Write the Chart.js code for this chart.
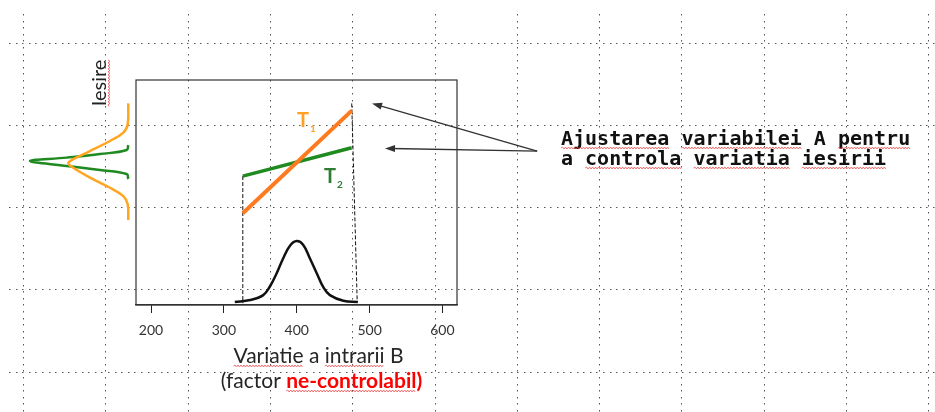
<!DOCTYPE html>
<html>
<head>
<meta charset="utf-8">
<script src="https://cdn.jsdelivr.net/npm/chart.js@4.4.1/dist/chart.umd.min.js"></script>
<style>
  html, body { margin: 0; padding: 0; background: #fff; }
  #wrap { width: 935px; height: 412px; }
</style>
</head>
<body>
<div id="wrap"><canvas id="chart" width="935" height="412"></canvas></div>
<script>
// axa x (Variatie a intrarii B)
var xTicks = [200, 300, 400, 500, 600];

// T1 (portocaliu) si T2 (verde)
var t1X = [326, 475.5];
var t1Y = [40.8, 86.4];
var t2X = [326, 475.5];
var t2Y = [57.3, 69.9];

// distributia intrarii B
var inX = [315, 336, 354, 363, 372.5, 381.5, 391, 400, 409, 418, 427.5, 436.5, 445.5, 464, 484];
var inY = [1.3, 2.2, 4.4, 8.1, 14.1, 20.8, 26.4, 28.4, 26.7, 20.8, 14.1, 7.9, 4.4, 1.9, 1.3];

// distributiile iesirii (desenate culcat, in stanga graficului)
var outT1X = [168.8, 168.0, 162.0, 143.7, 116.3, 93.3, 86.5, 93.3, 116.3, 143.7, 162.0, 168.0, 168.8];
var outT1Y = [89.6, 80.3, 76.6, 72.9, 68.4, 64.8, 63.0, 61.0, 56.6, 52.1, 48.4, 44.8, 37.8];
var outT2X = [168.8, 166.6, 130.0, 84.3, 33.9, 84.3, 130.0, 166.6, 168.8];
var outT2Y = [71.1, 68.9, 67.1, 65.5, 64.0, 61.8, 60.0, 58.2, 56.0];

// proiectii punctate
var dropLX = [326, 326];
var dropLY = [57.3, 0.8];
var dropRX = [475.5, 483];
var dropRY = [89.6, 1.5];

// sageti
var arrowFrom = [730, 68.4];
var arrowTipX = [503.4, 521.2];
var arrowTipY = [89.6, 69.6];

// etichete T1, T2
var labelT = ['T', 'T'];
var labelSub = ['1', '2'];
var labelX = [401.8, 438.8];
var labelY = [79.2, 54.1];

var noteLines = ['Ajustarea variabilei A pentru', 'a controla variatia iesirii'];
var noteMarked = [['Ajustarea', 'variabilei', 'pentru'], ['controla', 'variatia', 'iesirii']];

function pts(xs, ys) {
  var a = [];
  for (var i = 0; i < xs.length; i++) a.push({x: xs[i], y: ys[i]});
  return a;
}

function squiggle(ctx, x1, x2, y) {
  ctx.save();
  ctx.strokeStyle = 'rgba(235,70,70,0.75)';
  ctx.lineWidth = 1;
  ctx.beginPath();
  var up = true;
  ctx.moveTo(x1, y);
  for (var x = x1 + 1.5; x <= x2; x += 1.5) {
    ctx.lineTo(x, up ? y - 1 : y + 1);
    up = !up;
  }
  ctx.stroke();
  ctx.restore();
}

var decor = {
  id: 'decor',
  beforeDraw: function(chart) {
    var ctx = chart.ctx;
    ctx.save();
    ctx.fillStyle = '#fff';
    ctx.fillRect(0, 0, chart.width, chart.height);
    // grila punctata a slide-ului
    ctx.fillStyle = '#555';
    var step = 82.3;
    for (var gx = 23; gx < chart.width; gx += step) {
      for (var yy = 14; yy < chart.height; yy += 6.6) ctx.fillRect(Math.round(gx), Math.round(yy), 1, 1.5);
    }
    for (var gy = 42.5; gy < chart.height; gy += step) {
      for (var xx = 9; xx < chart.width; xx += 6.6) ctx.fillRect(Math.round(xx), Math.round(gy), 1.5, 1);
    }
    ctx.restore();
  },
  afterDraw: function(chart) {
    var ctx = chart.ctx;
    var a = chart.chartArea;
    var sx = chart.scales.x, sy = chart.scales.y;
    ctx.save();

    // cadrul graficului
    ctx.strokeStyle = '#333';
    ctx.lineWidth = 1.2;
    ctx.strokeRect(a.left, a.top, a.right - a.left, a.bottom - a.top);

    // sageti
    ctx.strokeStyle = '#333';
    ctx.fillStyle = '#333';
    ctx.lineWidth = 1.3;
    var ox = sx.getPixelForValue(arrowFrom[0]), oy = sy.getPixelForValue(arrowFrom[1]);
    for (var i = 0; i < arrowTipX.length; i++) {
      var tx = sx.getPixelForValue(arrowTipX[i]), ty = sy.getPixelForValue(arrowTipY[i]);
      var ang = Math.atan2(ty - oy, tx - ox);
      ctx.beginPath();
      ctx.moveTo(ox, oy);
      ctx.lineTo(tx - 6 * Math.cos(ang), ty - 6 * Math.sin(ang));
      ctx.stroke();
      ctx.beginPath();
      ctx.moveTo(tx, ty);
      ctx.lineTo(tx - 10 * Math.cos(ang) + 3.5 * Math.sin(ang), ty - 10 * Math.sin(ang) - 3.5 * Math.cos(ang));
      ctx.lineTo(tx - 10 * Math.cos(ang) - 3.5 * Math.sin(ang), ty - 10 * Math.sin(ang) + 3.5 * Math.cos(ang));
      ctx.closePath();
      ctx.fill();
    }

    // T1, T2
    var tCol = ['#FFA020', '#2E7D32'];
    for (var k = 0; k < labelT.length; k++) {
      var lx = sx.getPixelForValue(labelX[k]), ly = sy.getPixelForValue(labelY[k]);
      ctx.fillStyle = tCol[k];
      ctx.font = 'bold 20px Lato';
      ctx.textAlign = 'left';
      ctx.textBaseline = 'alphabetic';
      ctx.fillText(labelT[k], lx - 1, ly);
      var w = ctx.measureText(labelT[k]).width;
      ctx.font = 'bold 10px Lato';
      ctx.fillText(labelSub[k], lx + w, ly + 5);
    }

    // Iesire (vertical)
    ctx.save();
    ctx.translate(a.left - 30, a.top + 3);
    ctx.rotate(-Math.PI / 2);
    ctx.fillStyle = '#222';
    ctx.font = '20px Lato';
    ctx.textAlign = 'center';
    ctx.textBaseline = 'alphabetic';
    ctx.fillText('Iesire', 0, 0);
    var iw = ctx.measureText('Iesire').width;
    squiggle(ctx, -iw / 2, iw / 2, 3);
    ctx.restore();

    // nota din dreapta
    ctx.fillStyle = '#111';
    ctx.font = 'bold 20px "DejaVu Sans Mono"';
    ctx.textAlign = 'left';
    ctx.textBaseline = 'alphabetic';
    var nx = a.right + 104;
    for (var n = 0; n < noteLines.length; n++) {
      var ny = a.top + 65 + n * 20;
      ctx.fillText(noteLines[n], nx, ny);
      noteMarked[n].forEach(function(word) {
        var idx = noteLines[n].indexOf(word);
        var x1 = nx + ctx.measureText(noteLines[n].slice(0, idx)).width;
        var x2 = x1 + ctx.measureText(word).width;
        squiggle(ctx, x1, x2, ny + 3);
      });
    }

    // titlul axei x
    var cx = (a.left + a.right) / 2 + 22;
    ctx.font = '21px Lato';
    ctx.fillStyle = '#262626';
    ctx.textAlign = 'center';
    var t1 = 'Variatie a intrarii B';
    ctx.fillText(t1, cx, a.bottom + 58);
    var w1 = ctx.measureText(t1).width;
    var s1 = cx - w1 / 2;
    squiggle(ctx, s1, s1 + ctx.measureText('Variatie').width, a.bottom + 61);
    var p2 = ctx.measureText('Variatie a ').width;
    squiggle(ctx, s1 + p2, s1 + p2 + ctx.measureText('intrarii').width, a.bottom + 61);

    ctx.textAlign = 'left';
    var partA = '(factor ';
    var partB = 'ne-controlabil)';
    ctx.font = '21px Lato';
    var wa = ctx.measureText(partA).width;
    ctx.font = 'bold 21px Lato';
    var wb = ctx.measureText(partB).width;
    var wn = ctx.measureText('ne-controlabil').width;
    var sx2 = cx + 3 - (wa + wb) / 2;
    ctx.font = '21px Lato';
    ctx.fillStyle = '#262626';
    ctx.fillText(partA, sx2, a.bottom + 83);
    ctx.font = 'bold 21px Lato';
    ctx.fillStyle = '#FF0000';
    ctx.fillText(partB, sx2 + wa, a.bottom + 83);
    squiggle(ctx, sx2 + wa, sx2 + wa + wn, a.bottom + 86);

    ctx.restore();
  }
};

Chart.defaults.font.family = 'Lato';

new Chart(document.getElementById('chart'), {
  type: 'scatter',
  data: {
    datasets: [
      { data: pts(t1X, t1Y), borderColor: '#FF7A1F', borderWidth: 4, showLine: true, pointRadius: 0, clip: false },
      { data: pts(t2X, t2Y), borderColor: '#1F8A20', borderWidth: 3.5, showLine: true, pointRadius: 0, clip: false },
      { data: pts(inX, inY), borderColor: '#111', borderWidth: 2.5, showLine: true, tension: 0.4, pointRadius: 0, clip: false },
      { data: pts(outT1X, outT1Y), borderColor: '#FFA51F', borderWidth: 2.5, showLine: true, tension: 0.4, pointRadius: 0, clip: false },
      { data: pts(outT2X, outT2Y), borderColor: '#1F8A20', borderWidth: 2.5, showLine: true, tension: 0.4, pointRadius: 0, clip: false },
      { data: pts(dropLX, dropLY), borderColor: '#111', borderWidth: 1, borderDash: [4, 2], showLine: true, pointRadius: 0, clip: false },
      { data: pts(dropRX, dropRY), borderColor: '#111', borderWidth: 1, borderDash: [4, 2], showLine: true, pointRadius: 0, clip: false }
    ]
  },
  options: {
    responsive: false,
    animation: false,
    devicePixelRatio: 1,
    layout: { padding: { left: 136, top: 80, right: 478, bottom: 67 } },
    plugins: { legend: { display: false }, tooltip: { enabled: false } },
    scales: {
      x: {
        type: 'linear',
        min: 179.4,
        max: 620,
        afterBuildTicks: function(s) { s.ticks = xTicks.map(function(v) { return {value: v}; }); },
        afterFit: function(s) { s.height = 40; },
        grid: { drawOnChartArea: false, drawTicks: true, tickLength: 8, color: '#222', lineWidth: 1 },
        border: { display: true, color: '#333', width: 1.2 },
        ticks: { font: { family: 'Lato', size: 14 }, color: '#333', padding: 9, autoSkip: false, maxRotation: 0 }
      },
      y: {
        display: false,
        min: 0,
        max: 100
      }
    }
  },
  plugins: [decor]
});
</script>
</body>
</html>
